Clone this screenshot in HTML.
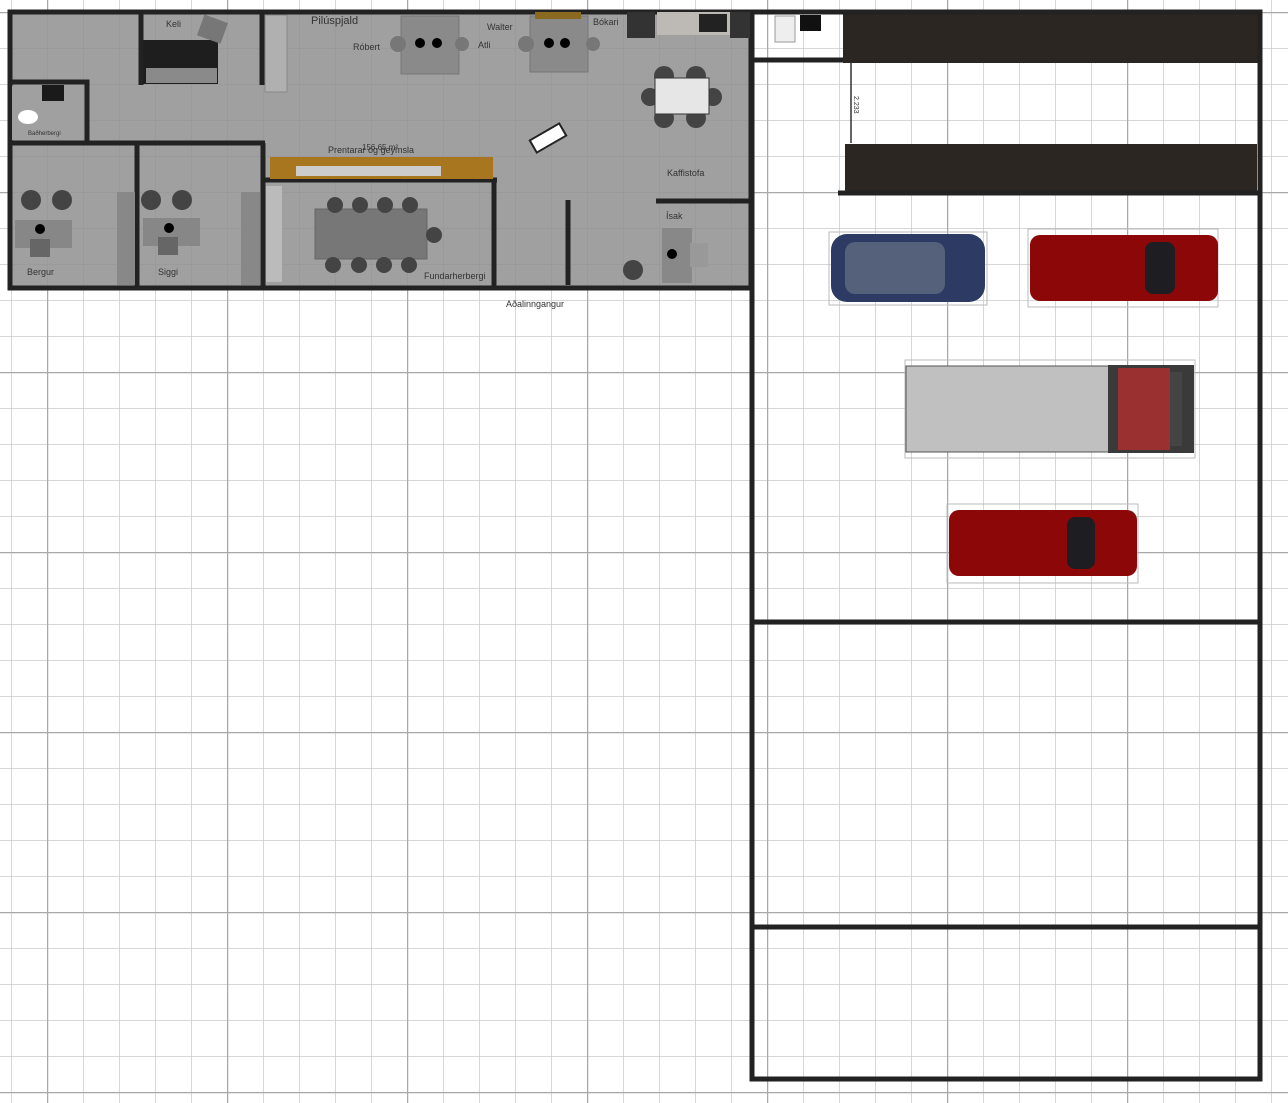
<!DOCTYPE html>
<html><head><style>html,body{margin:0;padding:0;background:#fff}svg{display:block}text{font-family:"Liberation Sans",sans-serif;fill:#333}</style></head>
<body>
<svg width="1288" height="1103" viewBox="0 0 1288 1103" xmlns="http://www.w3.org/2000/svg">
<defs>
<pattern id="g" x="11" y="12" width="36" height="36" patternUnits="userSpaceOnUse"><path d="M0 0V36M0 0H36" stroke="#c8c8c8" stroke-width="1.5" fill="none"/></pattern>
<pattern id="G" x="47" y="12" width="180" height="180" patternUnits="userSpaceOnUse"><path d="M0 0V180M0 0H180" stroke="#a8a8a8" stroke-width="2.5" fill="none"/></pattern>
<pattern id="gi" x="11" y="12" width="36" height="36" patternUnits="userSpaceOnUse"><path d="M0 0V36M0 0H36" stroke="#959595" stroke-width="1" fill="none"/></pattern>
</defs>
<rect width="1288" height="1103" fill="url(#g)"/>
<rect width="1288" height="1103" fill="url(#G)"/>
<!-- office -->
<rect x="9" y="11" width="743" height="278" fill="#a0a0a0"/>
<rect x="9" y="11" width="743" height="278" fill="url(#gi)"/>
<!-- garage -->
<rect x="753" y="11" width="507" height="1068" fill="#fff"/>
<rect x="753" y="11" width="507" height="1068" fill="url(#g)"/>
<rect x="753" y="11" width="507" height="1068" fill="url(#G)"/>
<rect x="843" y="14" width="416" height="49" fill="#2b2622"/>
<rect x="845" y="144" width="412" height="48" fill="#2b2622"/>
<line x1="851" y1="62" x2="851" y2="143" stroke="#333" stroke-width="1.5"/>
<text x="854" y="96" font-size="7" transform="rotate(90 854 96)">2.233</text>
<g fill="none" stroke="#222" stroke-width="5">
<rect x="752" y="12" width="508" height="1067"/>
<line x1="752" y1="622" x2="1260" y2="622"/>
<line x1="752" y1="927" x2="1260" y2="927"/>
<line x1="752" y1="60" x2="843" y2="60"/>
<line x1="838" y1="193" x2="1258" y2="193"/>
<!-- office walls -->
<rect x="10" y="12" width="741" height="276"/>
<line x1="141" y1="12" x2="141" y2="85"/>
<line x1="262" y1="12" x2="262" y2="85"/>
<polyline points="10,82 87,82 87,142"/>
<line x1="10" y1="143" x2="265" y2="143"/>
<line x1="137" y1="143" x2="137" y2="287"/>
<line x1="263" y1="143" x2="263" y2="287"/>
<line x1="265" y1="180" x2="497" y2="180"/>
<line x1="494" y1="180" x2="494" y2="287"/>
<line x1="568" y1="200" x2="568" y2="285"/>
<line x1="656" y1="201" x2="750" y2="201"/>
</g>
<!-- furniture -->
<rect x="143" y="40" width="75" height="44" fill="#1e1e1e"/>
<rect x="146" y="68" width="71" height="15" fill="#8a8a8a"/>
<rect x="200" y="18" width="25" height="22" fill="#777" transform="rotate(20 212 29)"/>
<rect x="265" y="15" width="22" height="77" fill="#b0b0b0" stroke="#888"/>
<rect x="401" y="16" width="58" height="58" fill="#8a8a8a" stroke="#777"/>
<rect x="530" y="16" width="58" height="56" fill="#8a8a8a" stroke="#777"/>
<circle cx="420" cy="43" r="5" fill="#000"/><circle cx="437" cy="43" r="5" fill="#000"/>
<circle cx="549" cy="43" r="5" fill="#000"/><circle cx="565" cy="43" r="5" fill="#000"/>
<circle cx="398" cy="44" r="8" fill="#777"/><circle cx="462" cy="44" r="7" fill="#777"/>
<circle cx="526" cy="44" r="8" fill="#777"/><circle cx="593" cy="44" r="7" fill="#777"/>
<rect x="535" y="12" width="46" height="7" fill="#8a6a20"/>
<rect x="627" y="12" width="28" height="26" fill="#333"/>
<rect x="657" y="12" width="73" height="23" fill="#bdbab5"/>
<rect x="699" y="14" width="28" height="18" fill="#222"/>
<rect x="730" y="12" width="20" height="26" fill="#333"/>
<rect x="12" y="86" width="70" height="54" fill="#a0a0a0"/>
<rect x="42" y="85" width="22" height="16" fill="#1a1a1a"/>
<ellipse cx="28" cy="117" rx="10" ry="7" fill="#fff"/>
<rect x="270" y="157" width="223" height="22" fill="#a8761e"/>
<rect x="296" y="166" width="145" height="10" fill="#ccc"/>
<rect x="266" y="186" width="16" height="96" fill="#bbb"/>
<rect x="315" y="209" width="112" height="50" fill="#777" stroke="#666"/>
<g fill="#444"><circle cx="335" cy="205" r="8"/><circle cx="360" cy="205" r="8"/><circle cx="385" cy="205" r="8"/><circle cx="410" cy="205" r="8"/>
<circle cx="333" cy="265" r="8"/><circle cx="359" cy="265" r="8"/><circle cx="384" cy="265" r="8"/><circle cx="409" cy="265" r="8"/><circle cx="434" cy="235" r="8"/>
<circle cx="31" cy="200" r="10"/><circle cx="62" cy="200" r="10"/><circle cx="151" cy="200" r="10"/><circle cx="182" cy="200" r="10"/>
<circle cx="633" cy="270" r="10"/>
<circle cx="664" cy="76" r="10"/><circle cx="696" cy="76" r="10"/><circle cx="664" cy="118" r="10"/><circle cx="696" cy="118" r="10"/><circle cx="650" cy="97" r="9"/><circle cx="713" cy="97" r="9"/></g>
<rect x="15" y="220" width="57" height="28" fill="#878787"/>
<rect x="143" y="218" width="57" height="28" fill="#878787"/>
<circle cx="40" cy="229" r="5" fill="#000"/><circle cx="169" cy="228" r="5" fill="#000"/>
<rect x="30" y="239" width="20" height="18" fill="#666"/><rect x="158" y="237" width="20" height="18" fill="#666"/>
<rect x="117" y="192" width="18" height="93" fill="#888"/>
<rect x="241" y="192" width="19" height="93" fill="#888"/>
<rect x="655" y="78" width="54" height="36" fill="#e6e6e6" stroke="#333"/>
<rect x="662" y="228" width="30" height="55" fill="#888"/>
<circle cx="672" cy="254" r="5" fill="#000"/>
<rect x="690" y="243" width="18" height="24" fill="#999"/>
<rect x="531" y="131" width="34" height="14" fill="#fff" stroke="#222" stroke-width="2" transform="rotate(-30 548 138)"/>
<rect x="775" y="16" width="20" height="26" fill="#eee" stroke="#999"/>
<rect x="800" y="15" width="21" height="16" fill="#111"/>
<!-- cars -->
<rect x="829" y="232" width="158" height="73" fill="none" stroke="#bbb"/>
<rect x="831" y="234" width="154" height="68" rx="16" fill="#2d3a63"/>
<rect x="845" y="242" width="100" height="52" rx="10" fill="#55607a"/>
<rect x="1028" y="229" width="190" height="78" fill="none" stroke="#bbb"/>
<rect x="1030" y="235" width="188" height="66" rx="10" fill="#8c0808"/>
<rect x="1145" y="242" width="30" height="52" rx="8" fill="#1e1e22"/>
<rect x="905" y="360" width="290" height="98" fill="none" stroke="#bbb"/>
<rect x="906" y="366" width="203" height="86" fill="#c0c0c0" stroke="#555"/>
<rect x="1108" y="365" width="86" height="88" fill="#3a3a3a"/>
<rect x="1118" y="368" width="52" height="82" fill="#9b3030"/>
<rect x="1170" y="372" width="12" height="74" fill="#444"/>
<rect x="947" y="504" width="191" height="79" fill="none" stroke="#bbb"/>
<rect x="949" y="510" width="188" height="66" rx="10" fill="#8c0808"/>
<rect x="1067" y="517" width="28" height="52" rx="8" fill="#1e1e22"/>
<!-- labels -->
<g font-size="9">
<text x="166" y="27">Keli</text>
<text x="311" y="24" font-size="11">Pilúspjald</text>
<text x="353" y="50">Róbert</text>
<text x="478" y="48">Atli</text>
<text x="487" y="30">Walter</text>
<text x="593" y="25">Bókari</text>
<text x="28" y="135" font-size="6">Baðherbergi</text>
<text x="328" y="153">Prentarar og geymsla</text>
<text x="362" y="150" font-size="8">156.65 m²</text>
<text x="667" y="176">Kaffistofa</text>
<text x="666" y="219">Ísak</text>
<text x="27" y="275">Bergur</text>
<text x="158" y="275">Siggi</text>
<text x="424" y="279">Fundarherbergi</text>
<text x="506" y="307">Aðalinngangur</text>
</g>
</svg>
</body></html>
